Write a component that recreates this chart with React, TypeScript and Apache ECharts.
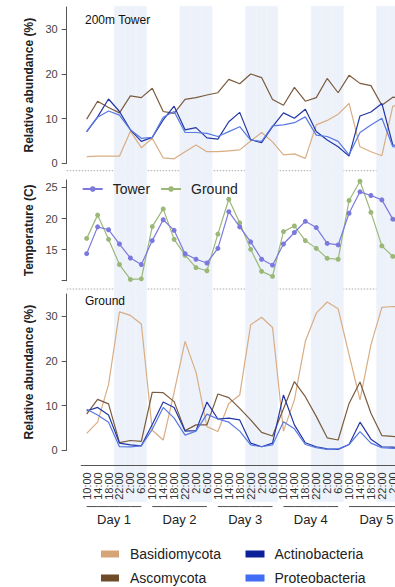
import React, { useEffect, useRef } from "react";
import * as echarts from "echarts";

const times = ["10:00", "14:00", "18:00", "22:00", "2:00", "6:00"];
const nightTimes = ["22:00", "2:00", "6:00"];
const days = ["Day 1", "Day 2", "Day 3", "Day 4", "Day 5"];
const categories = days.flatMap((d) => times.map((t) => `${d}|${t}`));

// 200m Tower abundance (%)
const basidioTower = [1.5, 1.6, 1.6, 1.6, 7.2, 3.5, 5.6, 1.2, 1.0, 2.6, 4.1, 2.6, 2.6, 2.8, 3.0, 5.0, 6.9, 4.8, 1.9, 2.1, 1.1, 8.6, 9.6, 11.0, 13.4, 3.7, 2.6, 1.7, 12.8, 13.0];
const ascoTower = [9.9, 13.9, 12.5, 11.3, 15.1, 14.7, 16.8, 11.6, 11.2, 14.3, 14.7, 15.3, 15.8, 18.8, 17.8, 20.0, 19.2, 14.3, 13.0, 17.0, 13.9, 14.7, 19.0, 15.8, 19.7, 17.9, 17.4, 13.0, 14.8, 14.5];
const actinoTower = [7.1, 10.4, 14.4, 11.6, 7.5, 4.9, 5.8, 9.7, 12.8, 7.5, 8.0, 5.7, 5.4, 9.3, 11.4, 5.3, 4.6, 8.2, 11.3, 10.1, 12.1, 7.1, 5.2, 3.7, 1.6, 10.6, 11.5, 13.4, 4.1, 3.8];
const proteoTower = [7.1, 10.3, 11.7, 10.8, 7.5, 5.6, 5.8, 10.3, 11.6, 6.9, 6.9, 6.7, 6.0, 7.1, 8.2, 5.2, 4.9, 8.4, 8.6, 9.1, 10.4, 6.3, 6.0, 4.9, 1.9, 6.9, 8.6, 10.1, 3.7, 3.5];

// Temperature (C)
const tempTower = [14.35, 18.66, 18.2, 15.9, 13.65, 12.6, 16.45, 19.8, 18.1, 14.35, 13.45, 12.85, 15.2, 21.1, 18.65, 16.25, 13.45, 12.5, 15.9, 17.75, 19.55, 18.55, 16.0, 15.75, 20.85, 24.3, 23.7, 23.0, 19.9, 18.5];
const tempGround = [16.8, 20.55, 16.65, 12.6, 10.2, 10.3, 18.7, 21.55, 16.65, 14.1, 12.1, 11.6, 17.5, 23.1, 19.3, 15.05, 11.5, 10.7, 17.9, 18.8, 16.45, 15.2, 13.6, 13.45, 22.9, 26.0, 21.0, 15.6, 13.9, 13.0];

// Ground abundance (%)
const basidioGround = [3.8, 6.3, 14.7, 31.0, 30.2, 28.3, 4.5, 2.3, 13.0, 24.4, 17.5, 5.3, 4.2, 10.5, 12.4, 28.1, 29.8, 27.5, 4.3, 11.3, 24.4, 30.7, 33.2, 31.7, 21.4, 11.3, 23.6, 32.0, 32.2, 32.0];
const ascoGround = [8.1, 11.4, 10.4, 1.7, 2.2, 2.0, 13.0, 12.9, 10.9, 4.4, 5.7, 5.7, 12.6, 11.8, 9.4, 6.8, 4.0, 3.2, 9.3, 15.4, 12.0, 7.6, 2.8, 2.3, 10.5, 15.3, 8.3, 3.3, 3.1, 3.0];
const actinoGround = [8.8, 9.6, 7.9, 1.6, 1.2, 1.0, 5.8, 10.8, 9.6, 4.3, 4.4, 10.8, 7.0, 7.2, 6.8, 1.6, 0.8, 1.6, 12.4, 5.7, 1.7, 0.8, 0.3, 0.2, 1.3, 6.3, 2.5, 0.8, 0.7, 0.6];
const proteoGround = [9.2, 7.9, 6.3, 0.8, 0.75, 1.0, 4.7, 9.6, 7.2, 3.4, 4.3, 8.1, 7.0, 6.3, 4.3, 1.2, 0.8, 1.2, 6.4, 4.8, 1.3, 0.6, 0.2, 0.3, 1.3, 4.2, 1.6, 0.6, 0.4, 0.4];

const abundanceTicks = [0, 10, 20, 30];
const tempTicks = [10, 15, 20, 25];
const tempLabels = [15, 20, 25];

const FONT = "'Liberation Sans', Arial, sans-serif";

const taxa = [
  { name: "Basidiomycota", line: "#d9ad84", swatch: "#d6a577", tower: basidioTower, ground: basidioGround },
  { name: "Ascomycota", line: "#7b5b3f", swatch: "#6f4a28", tower: ascoTower, ground: ascoGround },
  { name: "Actinobacteria", line: "#2236a6", swatch: "#0b2199", tower: actinoTower, ground: actinoGround },
  { name: "Proteobacteria", line: "#5878e2", swatch: "#416cf5", tower: proteoTower, ground: proteoGround },
];

const TOWER_COLOR = "#7b79de";
const GROUND_COLOR = "#9bb878";
const BAND_COLOR = "#edf2fa";
const AXIS_COLOR = "#555";

export default function App() {
  const ref = useRef<HTMLDivElement>(null);

  useEffect(() => {
    if (!ref.current) return;
    const chart = echarts.init(ref.current, undefined, { renderer: "svg" });

    const gridLeft = 81.2;
    const gridWidth = 328;

    const yBase = (gridIndex: number) => ({
      gridIndex,
      type: "value",
      offset: 14.5,
      z: 5,
      nameLocation: "middle",
      nameGap: 20,
      nameTextStyle: { fontSize: 12, fontWeight: "bold", color: "#222", fontFamily: FONT },
      axisLine: { show: true, onZero: false, lineStyle: { color: AXIS_COLOR, width: 1 } },
      splitLine: { show: false },
    });

    const series: any[] = [];
    series.push({
      type: "bar",
      xAxisIndex: 3,
      yAxisIndex: 3,
      data: categories.map((c) => (nightTimes.includes(c.split("|")[1]) ? 1 : null)),
      barCategoryGap: "0%",
      barWidth: "100%",
      itemStyle: { color: BAND_COLOR, borderColor: BAND_COLOR, borderWidth: 0.6 },
      silent: true,
      z: 0,
    });
    taxa.forEach((t) => {
      series.push({
        type: "line",
        name: t.name,
        xAxisIndex: 0,
        yAxisIndex: 0,
        data: t.tower,
        symbol: "none",
        color: t.swatch,
        lineStyle: { width: 1.2, color: t.line },
        z: 3,
      });
      series.push({
        type: "line",
        name: t.name,
        xAxisIndex: 2,
        yAxisIndex: 2,
        data: t.ground,
        symbol: "none",
        color: t.swatch,
        lineStyle: { width: 1.2, color: t.line },
        z: 3,
      });
    });
    series.push({
      type: "line",
      name: "Tower",
      xAxisIndex: 1,
      yAxisIndex: 1,
      data: tempTower,
      symbol: "circle",
      symbolSize: 5,
      lineStyle: { width: 1.2, color: TOWER_COLOR },
      itemStyle: { color: TOWER_COLOR },
      z: 4,
    });
    series.push({
      type: "line",
      name: "Ground",
      xAxisIndex: 1,
      yAxisIndex: 1,
      data: tempGround,
      symbol: "circle",
      symbolSize: 5,
      lineStyle: { width: 1.2, color: GROUND_COLOR },
      itemStyle: { color: GROUND_COLOR },
      z: 3,
    });
    days.forEach((d) => {
      series.push({
        type: "line",
        xAxisIndex: 4,
        yAxisIndex: 4,
        data: categories.map((c) => (c.split("|")[0] === d ? 0 : null)),
        symbol: "none",
        lineStyle: { width: 1, color: "#333" },
        silent: true,
        z: 3,
      });
    });

    const option: any = {
      animation: false,
      textStyle: { fontFamily: FONT },
      title: [
        { text: "200m Tower", left: 85, top: 14, padding: 0, textStyle: { fontSize: 12, fontWeight: "normal", color: "#111", fontFamily: FONT } },
        { text: "Ground", left: 85, top: 295, padding: 0, textStyle: { fontSize: 12, fontWeight: "normal", color: "#111", fontFamily: FONT } },
      ],
      grid: [
        { left: gridLeft, top: 7, width: gridWidth, height: 156.3 },
        { left: gridLeft, top: 180, width: gridWidth, height: 100.7 },
        { left: gridLeft, top: 294, width: gridWidth, height: 156.3 },
        { left: gridLeft, top: 6, width: gridWidth, height: 496 },
        { left: gridLeft, top: 500, width: gridWidth, height: 6.7 },
      ],
      xAxis: [
        { gridIndex: 0, type: "category", data: categories, show: false },
        { gridIndex: 1, type: "category", data: categories, show: false },
        {
          gridIndex: 2,
          type: "category",
          data: categories,
          offset: 15,
          z: 5,
          axisLine: { onZero: false, lineStyle: { color: AXIS_COLOR } },
          axisTick: { alignWithLabel: true, length: 5, lineStyle: { color: AXIS_COLOR } },
          axisLabel: {
            interval: 0,
            rotate: 90,
            fontSize: 11,
            color: "#333",
            margin: 7,
            fontFamily: FONT,
            formatter: (v: string) => v.split("|")[1],
          },
        },
        { gridIndex: 3, type: "category", data: categories, show: false },
        { gridIndex: 4, type: "category", data: categories, show: false, position: "top" },
        {
          gridIndex: 4,
          type: "category",
          data: days,
          position: "bottom",
          z: 5,
          axisLine: { show: false, onZero: false },
          axisTick: { show: false },
          axisLabel: { fontSize: 13, color: "#222", margin: 6, fontFamily: FONT },
        },
      ],
      yAxis: [
        {
          ...yBase(0),
          min: 0,
          max: 35,
          name: "Relative abundance (%)",
          axisTick: { show: true, length: 5, lineStyle: { color: AXIS_COLOR }, customValues: abundanceTicks },
          axisLabel: { fontSize: 11, color: "#444", margin: 9, fontFamily: FONT, customValues: abundanceTicks },
        },
        {
          ...yBase(1),
          min: 10,
          max: 26.2,
          name: "Temperature (C)",
          axisTick: { show: true, length: 5, lineStyle: { color: AXIS_COLOR }, customValues: tempTicks },
          axisLabel: { fontSize: 11, color: "#444", margin: 9, fontFamily: FONT, customValues: tempLabels },
        },
        {
          ...yBase(2),
          min: 0,
          max: 35,
          name: "Relative abundance (%)",
          axisTick: { show: true, length: 5, lineStyle: { color: AXIS_COLOR }, customValues: abundanceTicks },
          axisLabel: { fontSize: 11, color: "#444", margin: 9, fontFamily: FONT, customValues: abundanceTicks },
        },
        { gridIndex: 3, type: "value", min: 0, max: 1, show: false },
        { gridIndex: 4, type: "value", min: 0, max: 1, show: false },
      ],
      legend: [
        {
          data: ["Tower", "Ground"],
          left: 81.7,
          top: 182,
          itemWidth: 20,
          itemHeight: 7,
          itemGap: 10,
          padding: 0,
          textStyle: { fontSize: 14, color: "#222", fontFamily: FONT, padding: [0, 0, 0, 5] },
        },
        {
          data: taxa.slice(0, 2).map((t) => ({ name: t.name, itemStyle: { color: t.swatch } })),
          orient: "vertical",
          left: 101,
          top: 547,
          icon: "rect",
          itemWidth: 18,
          itemHeight: 7,
          itemGap: 10,
          padding: 0,
          textStyle: { fontSize: 14, color: "#222", fontFamily: FONT, padding: [0, 0, 0, 6] },
        },
        {
          data: taxa.slice(2, 4).map((t) => ({ name: t.name, itemStyle: { color: t.swatch } })),
          orient: "vertical",
          left: 245.5,
          top: 547,
          icon: "rect",
          itemWidth: 19,
          itemHeight: 7,
          itemGap: 10,
          padding: 0,
          textStyle: { fontSize: 14, color: "#222", fontFamily: FONT, padding: [0, 0, 0, 5] },
        },
      ],
      graphic: [
        { type: "line", shape: { x1: 66.7, y1: 170.7, x2: 440, y2: 170.7 }, style: { stroke: "#aaa", lineWidth: 1, lineDash: [1.5, 1.5] }, silent: true },
        { type: "line", shape: { x1: 66.7, y1: 289, x2: 440, y2: 289 }, style: { stroke: "#aaa", lineWidth: 1, lineDash: [1.5, 1.5] }, silent: true },
      ],
      series,
    };

    chart.setOption(option);
    return () => chart.dispose();
  }, []);

  return (
    <div style={{ position: "fixed", left: 0, top: 0, width: 395, height: 587, overflow: "hidden", background: "#fff" }}>
      <div ref={ref} style={{ width: 440, height: 587 }} />
    </div>
  );
}
